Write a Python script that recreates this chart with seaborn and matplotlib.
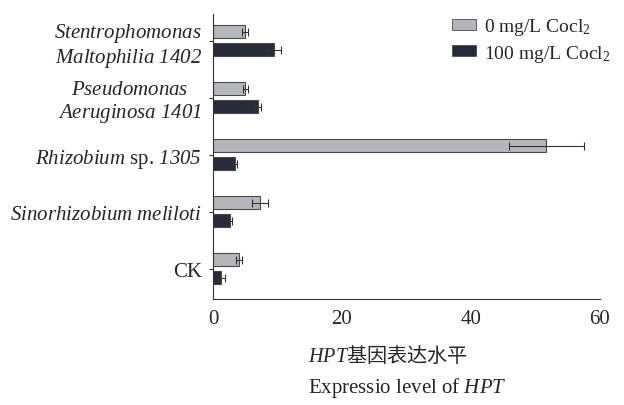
import matplotlib
matplotlib.use("Agg")
import matplotlib.pyplot as plt
import seaborn as sns
import pandas as pd
from matplotlib.patches import Patch

categories = ["Stentrophomonas\nMaltophilia 1402", "Pseudomonas\nAeruginosa 1401",
              "Rhizobium sp. 1305", "Sinorhizobium meliloti", "CK"]
tick_labels = [r"$\mathsf{Stentrophomonas}$" + "\n" + r"$\mathsf{Maltophilia\ 1402}$",
               r"$\mathsf{Pseudomonas}$" + "\n" + r"$\mathsf{Aeruginosa\ 1401}$",
               r"$\mathsf{Rhizobium}$ sp. $\mathsf{1305}$",
               r"$\mathsf{Sinorhizobium\ meliloti}$",
               "CK"]
groups = ["0 mg/L Cocl$_2$", "100 mg/L Cocl$_2$"]
vals_0 = [5.0, 5.0, 51.7, 7.3, 4.0]
vals_100 = [9.4, 7.0, 3.4, 2.6, 1.3]
err_0 = [0.5, 0.4, 5.8, 1.2, 0.5]
err_100 = [1.1, 0.5, 0.3, 0.4, 0.5]
x_ticks = [0, 20, 40, 60]

sns.set_theme(style="white")
plt.rcParams["font.family"] = ["Liberation Serif", "DejaVu Sans"]
plt.rcParams["mathtext.fontset"] = "custom"
plt.rcParams["mathtext.rm"] = "Liberation Serif"
plt.rcParams["mathtext.it"] = "Liberation Serif:italic"
plt.rcParams["mathtext.sf"] = "Liberation Serif:italic"

df = pd.DataFrame({
    "cat": categories * 2,
    "grp": [groups[0]] * 5 + [groups[1]] * 5,
    "val": vals_0 + vals_100,
})
errs = {groups[0]: err_0, groups[1]: err_100}
colors = ["#b5b6bc", "#262a3a"]

fig = plt.figure(figsize=(6.24, 4.06), dpi=100)
ax = fig.add_axes([213 / 624, 1 - 300 / 406, (600 - 213) / 624, (300 - 15) / 406])

sns.barplot(data=df, y="cat", x="val", hue="grp", order=categories, hue_order=groups,
            palette=colors, orient="h", width=0.62, gap=0.26, errorbar=None,
            edgecolor="#4a4a4a", linewidth=0.8, ax=ax, legend=False)

for cont, g in zip(ax.containers, groups):
    for bar, e in zip(cont, errs[g]):
        y = bar.get_y() + bar.get_height() / 2
        ax.errorbar(bar.get_width(), y, xerr=e, fmt="none", ecolor="#333333",
                    elinewidth=0.8, capsize=3, capthick=0.8)

ax.set_xlim(0, 60)
ax.set_ylim(4.53, -0.47)
ax.set_xticks(x_ticks)
ax.set_xticklabels([str(t) for t in x_ticks], fontsize=15)
ax.set_yticks(range(len(categories)))
ax.set_yticklabels(tick_labels, fontsize=15, multialignment="center", linespacing=1.1)
ax.tick_params(axis="x", direction="in", length=5, width=0.8, color="#333333", pad=7)
ax.tick_params(axis="y", direction="out", length=3, width=0.8, color="#333333", left=True, pad=5)
ax.set_xlabel("")
ax.set_ylabel("")
for s in ["top", "right"]:
    ax.spines[s].set_visible(False)
for s in ["left", "bottom"]:
    ax.spines[s].set_color("#333333")
    ax.spines[s].set_linewidth(0.8)

handles = [Patch(facecolor=c, edgecolor="#4a4a4a", linewidth=0.6) for c in colors]
fig.legend(handles, groups, loc="upper left", bbox_to_anchor=(452 / 624, 1 - 17 / 406),
           bbox_transform=fig.transFigure, frameon=False,
           fontsize=14, handlelength=1.25, handleheight=0.5, handletextpad=0.4,
           labelspacing=0.3, borderaxespad=0, borderpad=0)

fig.text(308 / 624, 1 - 356 / 406, r"$\mathit{HPT}$基因表达水平", fontsize=14.5,
         family=["Noto Sans CJK SC", "DejaVu Sans"], ha="left", va="center")
fig.text(308 / 624, 1 - 388 / 406, r"Expressio level of $\mathit{HPT}$", fontsize=15,
         ha="left", va="center")

fig.savefig("out.png", dpi=100, facecolor="white")
